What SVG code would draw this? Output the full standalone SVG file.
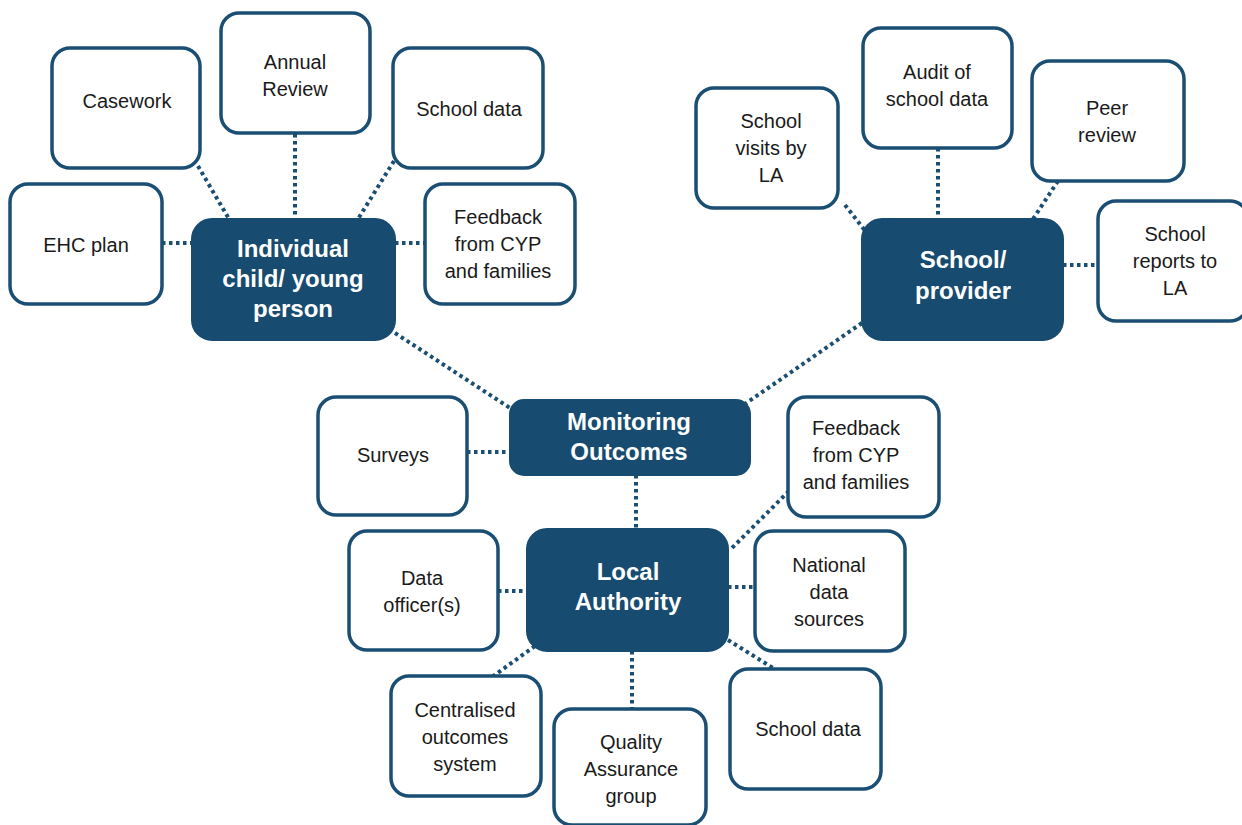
<svg xmlns="http://www.w3.org/2000/svg" width="1242" height="825" viewBox="0 0 1242 825">
<style>
.box{fill:#ffffff;stroke:#1a4e73;stroke-width:3.5}
.hub{fill:#174b70;stroke:#174b70;stroke-width:2}
.t{font-family:"Liberation Sans",Arial,sans-serif;font-size:20px;fill:#1a1a1a;text-anchor:middle}
.h{font-family:"Liberation Sans",Arial,sans-serif;font-size:24px;font-weight:bold;fill:#ffffff;text-anchor:middle}
.c{stroke:#1a4e73;stroke-width:4;stroke-dasharray:3.5 3.5;fill:none}
</style>
<rect width="1242" height="825" fill="#ffffff"/>
<g id="connectors">
<line class="c" x1="198" y1="166" x2="229" y2="219"/>
<line class="c" x1="295" y1="134" x2="295" y2="219"/>
<line class="c" x1="394" y1="161" x2="358" y2="219"/>
<line class="c" x1="162" y1="243" x2="192" y2="243"/>
<line class="c" x1="395" y1="243" x2="425" y2="243"/>
<line class="c" x1="395" y1="333" x2="510" y2="408"/>
<line class="c" x1="845" y1="205" x2="866" y2="232"/>
<line class="c" x1="938" y1="148" x2="938" y2="219"/>
<line class="c" x1="1058" y1="181" x2="1033" y2="219"/>
<line class="c" x1="1063" y1="265" x2="1098" y2="265"/>
<line class="c" x1="862" y1="323" x2="745" y2="404"/>
<line class="c" x1="467" y1="452" x2="510" y2="452"/>
<line class="c" x1="636" y1="475" x2="636" y2="529"/>
<line class="c" x1="789" y1="491" x2="730" y2="550"/>
<line class="c" x1="498" y1="591" x2="527" y2="591"/>
<line class="c" x1="728" y1="587" x2="755" y2="587"/>
<line class="c" x1="535" y1="646" x2="492" y2="677"/>
<line class="c" x1="632" y1="651" x2="632" y2="709"/>
<line class="c" x1="728" y1="640" x2="773" y2="668"/>
</g>
<g id="individual"><rect class="hub" x="192" y="219" width="203" height="121" rx="20"/>
<text class="h" x="293" y="257">Individual</text><text class="h" x="293" y="287">child/ young</text><text class="h" x="293" y="317">person</text></g>
<g id="casework"><rect class="box" x="52" y="48" width="148" height="120" rx="18"/><text class="t" x="127" y="108">Casework</text></g>
<g id="annual-review"><rect class="box" x="221" y="13" width="149" height="120" rx="18"/><text class="t" x="295" y="69">Annual</text><text class="t" x="295" y="96">Review</text></g>
<g id="school-data-top"><rect class="box" x="393" y="48" width="150" height="120" rx="18"/><text class="t" x="469" y="116">School data</text></g>
<g id="ehc-plan"><rect class="box" x="10" y="184" width="152" height="120" rx="18"/><text class="t" x="86" y="252">EHC plan</text></g>
<g id="feedback-top"><rect class="box" x="425" y="184" width="150" height="120" rx="18"/><text class="t" x="498" y="224">Feedback</text><text class="t" x="498" y="251">from CYP</text><text class="t" x="498" y="278">and families</text></g>
<g id="school-provider"><rect class="hub" x="862" y="219" width="201" height="121" rx="20"/>
<text class="h" x="963" y="268">School/</text><text class="h" x="963" y="299">provider</text></g>
<g id="school-visits"><rect class="box" x="696" y="88" width="142" height="120" rx="18"/><text class="t" x="771" y="128">School</text><text class="t" x="771" y="155">visits by</text><text class="t" x="771" y="182">LA</text></g>
<g id="audit"><rect class="box" x="863" y="28" width="149" height="120" rx="18"/><text class="t" x="937" y="79">Audit of</text><text class="t" x="937" y="106">school data</text></g>
<g id="peer-review"><rect class="box" x="1032" y="61" width="152" height="120" rx="18"/><text class="t" x="1107" y="115">Peer</text><text class="t" x="1107" y="142">review</text></g>
<g id="school-reports"><rect class="box" x="1098" y="201" width="150" height="120" rx="18"/><text class="t" x="1175" y="241">School</text><text class="t" x="1175" y="268">reports to</text><text class="t" x="1175" y="295">LA</text></g>
<g id="monitoring"><rect class="hub" x="510" y="400" width="240" height="75" rx="14"/>
<text class="h" x="629" y="430">Monitoring</text><text class="h" x="629" y="460">Outcomes</text></g>
<g id="surveys"><rect class="box" x="318" y="397" width="149" height="118" rx="18"/><text class="t" x="393" y="462">Surveys</text></g>
<g id="feedback-la"><rect class="box" x="788" y="397" width="151" height="120" rx="18"/><text class="t" x="856" y="435">Feedback</text><text class="t" x="856" y="462">from CYP</text><text class="t" x="856" y="489">and families</text></g>
<g id="local-authority"><rect class="hub" x="527" y="529" width="201" height="122" rx="20"/>
<text class="h" x="628" y="580">Local</text><text class="h" x="628" y="610">Authority</text></g>
<g id="data-officers"><rect class="box" x="349" y="531" width="149" height="119" rx="18"/><text class="t" x="422" y="585">Data</text><text class="t" x="422" y="612">officer(s)</text></g>
<g id="national-data"><rect class="box" x="755" y="531" width="150" height="120" rx="18"/><text class="t" x="829" y="572">National</text><text class="t" x="829" y="599">data</text><text class="t" x="829" y="626">sources</text></g>
<g id="centralised"><rect class="box" x="391" y="676" width="150" height="120" rx="18"/><text class="t" x="465" y="717">Centralised</text><text class="t" x="465" y="744">outcomes</text><text class="t" x="465" y="771">system</text></g>
<g id="quality-assurance"><rect class="box" x="554" y="709" width="152" height="116" rx="18"/><text class="t" x="631" y="749">Quality</text><text class="t" x="631" y="776">Assurance</text><text class="t" x="631" y="803">group</text></g>
<g id="school-data-la"><rect class="box" x="730" y="669" width="151" height="120" rx="18"/><text class="t" x="808" y="736">School data</text></g>
</svg>
